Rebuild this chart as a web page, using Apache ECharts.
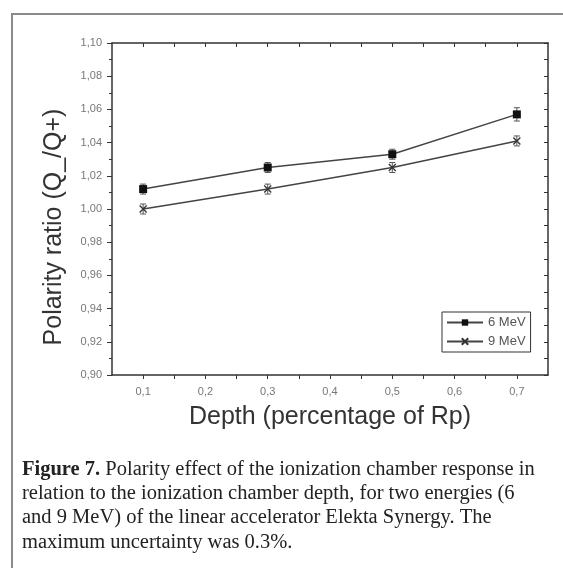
<!DOCTYPE html>
<html lang="en">
<head>
    <meta charset="UTF-8">
    <title>polarity ratio</title>
    <script src="https://cdn.jsdelivr.net/npm/echarts@6/dist/echarts.min.js"></script>
    <style>
        html, body { margin: 0; padding: 0; background: #fff; }
        #chart { width: 563px; height: 568px; }
    </style>
</head>
<body>
    <div id="chart"></div>
    <script>
        // data
        var depth = [0.1, 0.3, 0.5, 0.7];
        var ratio6 = [1.012, 1.025, 1.033, 1.057];
        var err6 = [0.003, 0.003, 0.003, 0.004];
        var ratio9 = [1.000, 1.012, 1.025, 1.041];
        var err9 = [0.003, 0.003, 0.003, 0.003];
        var seriesNames = ['6 MeV', '9 MeV'];
        var xTickValues = [0.1, 0.15, 0.2, 0.25, 0.3, 0.35, 0.4, 0.45, 0.5, 0.55, 0.6, 0.65, 0.7];
        var xLabelValues = [0.1, 0.2, 0.3, 0.4, 0.5, 0.6, 0.7];
        var captionLines = [
            '{b|Figure 7.} Polarity effect of the ionization chamber response in',
            'relation to the ionization chamber depth, for two energies (6',
            'and 9 MeV) of the linear accelerator Elekta Synergy. The',
            'maximum uncertainty was 0.3%.'
        ];

        var myChart = echarts.init(document.getElementById('chart'));

        var axisColor = '#333';
        var labelColor = '#777';
        var crossPath = 'path://M0,0L10,10M10,0L0,10';

        function pairs(xs, ys) {
            return xs.map(function (x, i) { return [x, ys[i]]; });
        }
        function errData(xs, ys, es) {
            return xs.map(function (x, i) { return [x, ys[i] - es[i], ys[i] + es[i]]; });
        }
        // vertical error bar with caps
        function renderErr(params, api) {
            var lo = api.coord([api.value(0), api.value(1)]);
            var hi = api.coord([api.value(0), api.value(2)]);
            var w = 3;
            var st = { stroke: '#555', lineWidth: 1 };
            return {
                type: 'group',
                children: [
                    { type: 'line', shape: { x1: lo[0], y1: lo[1], x2: hi[0], y2: hi[1] }, style: st },
                    { type: 'line', shape: { x1: lo[0] - w, y1: lo[1], x2: lo[0] + w, y2: lo[1] }, style: st },
                    { type: 'line', shape: { x1: hi[0] - w, y1: hi[1], x2: hi[0] + w, y2: hi[1] }, style: st }
                ]
            };
        }

        var captionGraphics = captionLines.map(function (t, i) {
            return {
                type: 'text',
                left: 22,
                top: 459 + i * 24.3,
                style: {
                    text: t,
                    fill: '#222',
                    font: '20.5px "Liberation Serif", serif',
                    rich: { b: { fontWeight: 'bold', fontSize: 20.5, fontFamily: 'Liberation Serif' } }
                }
            };
        });

        var option = {
            backgroundColor: '#fff',
            animation: false,
            grid: { left: 112, right: 15, top: 43, bottom: 193 },
            legend: {
                orient: 'vertical',
                left: 442,
                top: 312,
                data: seriesNames,
                borderColor: '#333',
                borderWidth: 1,
                borderRadius: 0,
                padding: [4, 5, 4, 4],
                itemGap: 6,
                itemWidth: 36,
                itemHeight: 8,
                textStyle: { color: '#555', fontSize: 13, fontFamily: 'Liberation Sans' }
            },
            xAxis: [{
                type: 'value',
                position: 'bottom',
                min: 0.05,
                max: 0.75,
                name: 'Depth (percentage of Rp)',
                nameLocation: 'middle',
                nameGap: 30,
                nameTextStyle: { fontSize: 25, color: axisColor, fontFamily: 'Liberation Sans' },
                axisLine: { show: true, onZero: false, lineStyle: { color: axisColor, width: 1.5 } },
                axisTick: { show: true, customValues: xTickValues, length: 4, lineStyle: { color: axisColor } },
                axisLabel: {
                    customValues: xLabelValues,
                    color: labelColor,
                    fontSize: 11,
                    margin: 11,
                    fontFamily: 'Liberation Sans',
                    formatter: function (v) { return v.toFixed(1).replace('.', ','); }
                },
                splitLine: { show: false }
            }, {
                type: 'value',
                position: 'top',
                min: 0.05,
                max: 0.75,
                axisLine: { show: true, onZero: false, lineStyle: { color: axisColor, width: 1.5 } },
                axisTick: { show: true, inside: true, customValues: xTickValues, length: 4, lineStyle: { color: axisColor } },
                axisLabel: { show: false },
                splitLine: { show: false }
            }],
            yAxis: [{
                type: 'value',
                position: 'left',
                min: 0.9,
                max: 1.1,
                interval: 0.02,
                name: 'Polarity ratio (Q_/Q+)',
                nameLocation: 'middle',
                nameGap: 45,
                nameRotate: 90,
                nameTextStyle: {
                    fontSize: 25,
                    color: axisColor,
                    fontFamily: 'Liberation Sans',
                    padding: [0, 36, 0, 0]
                },
                axisLine: { show: true, onZero: false, lineStyle: { color: axisColor, width: 1.5 } },
                axisTick: { show: true, length: 5, lineStyle: { color: axisColor } },
                minorTick: { show: true, splitNumber: 2, length: 3, lineStyle: { color: axisColor } },
                axisLabel: {
                    color: labelColor,
                    fontSize: 11,
                    margin: 10,
                    fontFamily: 'Liberation Sans',
                    formatter: function (v) { return v.toFixed(2).replace('.', ','); }
                },
                splitLine: { show: false }
            }, {
                type: 'value',
                position: 'right',
                min: 0.9,
                max: 1.1,
                interval: 0.02,
                axisLine: { show: true, onZero: false, lineStyle: { color: axisColor, width: 1.5 } },
                axisTick: { show: true, inside: true, length: 4, lineStyle: { color: axisColor } },
                minorTick: { show: true, splitNumber: 2, length: 4, lineStyle: { color: axisColor } },
                axisLabel: { show: false },
                splitLine: { show: false }
            }],
            series: [{
                name: seriesNames[0],
                type: 'line',
                symbol: 'rect',
                symbolSize: 8,
                lineStyle: { color: '#444', width: 1.5 },
                itemStyle: { color: '#111' },
                data: pairs(depth, ratio6),
                z: 3
            }, {
                name: seriesNames[1],
                type: 'line',
                symbol: crossPath,
                symbolSize: 7,
                lineStyle: { color: '#444', width: 1.5 },
                itemStyle: { color: '#fff', borderColor: '#333', borderWidth: 1.3 },
                data: pairs(depth, ratio9),
                z: 3
            }, {
                type: 'custom',
                renderItem: renderErr,
                data: errData(depth, ratio6, err6),
                z: 2
            }, {
                type: 'custom',
                renderItem: renderErr,
                data: errData(depth, ratio9, err9),
                z: 2
            }],
            graphic: [{
                type: 'rect',
                shape: { x: 12, y: 14, width: 700, height: 700 },
                style: { fill: 'none', stroke: '#8a8a8a', lineWidth: 2 },
                silent: true
            }].concat(captionGraphics)
        };

        myChart.setOption(option);
    </script>
</body>
</html>
